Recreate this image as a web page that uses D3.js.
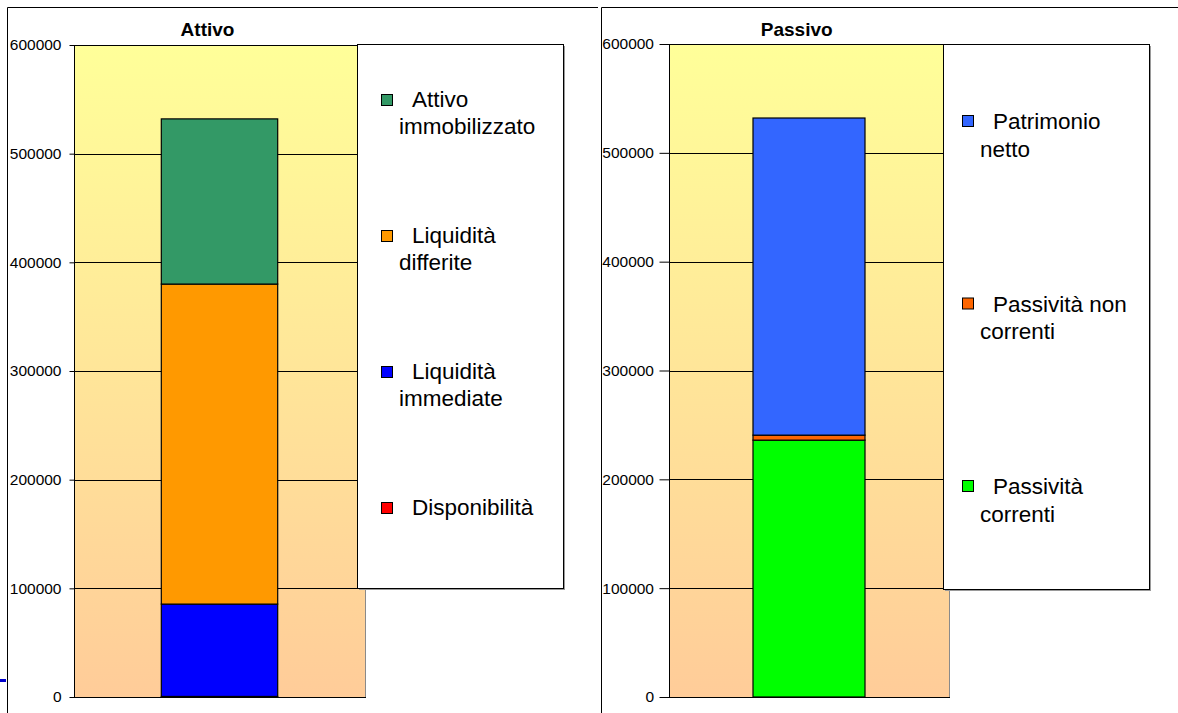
<!DOCTYPE html>
<html>
<head>
<meta charset="utf-8">
<script src="https://cdn.jsdelivr.net/npm/d3@7"></script>
<style>
  body { margin: 0; background: #fff; }
  svg { display: block; }
  text { font-family: "Liberation Sans", Arial, sans-serif; }
</style>
</head>
<body>
<svg id="chart" width="1178" height="713"></svg>
<script>
// ---- data ----
const yTicks = [0, 100000, 200000, 300000, 400000, 500000, 600000];

const attivoTitle = "Attivo";
const attivoSeries = ["Disponibilità", "Liquidità immediate", "Liquidità differite", "Attivo immobilizzato"];
const attivoValues = [500, 85000, 294500, 152000];
const attivoLegendLines = [["Disponibilità"], ["Liquidità", "immediate"], ["Liquidità", "differite"], ["Attivo", "immobilizzato"]];
const attivoColors = ["#FF0000", "#0000FF", "#FF9900", "#339966"];

const passivoTitle = "Passivo";
const passivoSeries = ["Passività correnti", "Passività non correnti", "Patrimonio netto"];
const passivoValues = [236000, 4600, 291400];
const passivoLegendLines = [["Passività", "correnti"], ["Passività non", "correnti"], ["Patrimonio", "netto"]];
const passivoColors = ["#00FF00", "#FF6600", "#3366FF"];

// ---- drawing ----
const svg = d3.select("#chart");
svg.append("rect").attr("width", 1178).attr("height", 713).attr("fill", "#fff");

const defs = svg.append("defs");
const grad = defs.append("linearGradient").attr("id", "plotBg")
  .attr("x1", 0).attr("y1", 0).attr("x2", 0).attr("y2", 1);
grad.append("stop").attr("offset", "0%").attr("stop-color", "#FFFF99");
grad.append("stop").attr("offset", "100%").attr("stop-color", "#FFCC99");

// small stray mark at the page's left edge
svg.append("rect").attr("x", 0).attr("y", 679).attr("width", 6).attr("height", 3).attr("fill", "#0000CC");

// panel frames
svg.append("path").attr("d", "M7.5,713 V7.5 H598").attr("fill", "none").attr("stroke", "#000").attr("stroke-width", 1);
svg.append("path").attr("d", "M601.5,713 V7.5 H1178").attr("fill", "none").attr("stroke", "#000").attr("stroke-width", 1);

function drawPanel(cfg) {
  const g = svg.append("g");
  const y = d3.scaleLinear().domain([0, 600000]).range([cfg.bottom, cfg.top]);
  const x = d3.scaleBand().domain([cfg.title]).range([cfg.left, cfg.right])
    .paddingInner(0).paddingOuter(0.75);

  // plot background
  g.append("rect")
    .attr("x", cfg.left).attr("y", cfg.top)
    .attr("width", cfg.right - cfg.left).attr("height", cfg.bottom - cfg.top)
    .attr("fill", "url(#plotBg)");
  // right edge of plot area
  g.append("line")
    .attr("x1", cfg.right + 0.5).attr("x2", cfg.right + 0.5)
    .attr("y1", cfg.top).attr("y2", cfg.bottom)
    .attr("stroke", "#8a8a8a").attr("stroke-width", 1);

  // gridlines
  g.append("g").selectAll("line").data(yTicks.filter(d => d > 0)).join("line")
    .attr("x1", cfg.left).attr("x2", cfg.right)
    .attr("y1", d => Math.round(y(d)) + 0.5).attr("y2", d => Math.round(y(d)) + 0.5)
    .attr("stroke", "#000").attr("stroke-width", 1);

  // stacked bar
  const row = {};
  cfg.series.forEach((s, i) => row[s] = cfg.values[i]);
  const stacked = d3.stack().keys(cfg.series)([row]);
  g.append("g").selectAll("rect").data(stacked).join("rect")
    .attr("x", x(cfg.title))
    .attr("width", x.bandwidth())
    .attr("y", d => y(d[0][1]))
    .attr("height", d => y(d[0][0]) - y(d[0][1]))
    .attr("fill", (d, i) => cfg.colors[i])
    .attr("stroke", "#000").attr("stroke-width", 1.2);

  // value axis
  const axis = d3.axisLeft(y).tickValues(yTicks).tickFormat(d3.format("d"))
    .tickSize(cfg.tickSize).tickPadding(cfg.tickPadding);
  const ax = g.append("g").attr("transform", `translate(${cfg.left + 0.5},0)`).call(axis);
  ax.select(".domain").attr("stroke", "#000").attr("d", `M0,${cfg.top}V${cfg.bottom}`);
  ax.selectAll(".tick line").attr("stroke", "#000");
  ax.selectAll(".tick text").attr("fill", "#000").attr("font-size", 15.5)
    .attr("font-family", "'Liberation Sans', Arial, sans-serif");
  // category axis line
  g.append("line")
    .attr("x1", cfg.left).attr("x2", cfg.right + 1)
    .attr("y1", cfg.bottom + 0.5).attr("y2", cfg.bottom + 0.5)
    .attr("stroke", "#000").attr("stroke-width", 1.2);

  // title
  g.append("text").attr("x", cfg.titleX).attr("y", 36)
    .attr("text-anchor", "middle").attr("font-weight", "bold").attr("font-size", 19)
    .text(cfg.title);

  // legend
  const L = cfg.legend;
  g.append("rect").attr("x", L.x + 2).attr("y", L.y + 2).attr("width", L.w).attr("height", L.h)
    .attr("fill", "#9a9a9a");
  g.append("rect").attr("x", L.x + 0.5).attr("y", L.y + 0.5).attr("width", L.w).attr("height", L.h)
    .attr("fill", "#fff").attr("stroke", "#000").attr("stroke-width", 1);

  const order = d3.range(cfg.series.length).reverse();
  const items = g.append("g").selectAll("g").data(order).join("g")
    .attr("transform", (d, k) => `translate(0,${L.firstTop + k * L.step})`);
  items.append("rect")
    .attr("x", L.squareX + 0.5).attr("y", 0.5).attr("width", 11).attr("height", 11)
    .attr("fill", d => cfg.colors[d]).attr("stroke", "#000").attr("stroke-width", 1);
  items.each(function(d) {
    const it = d3.select(this);
    cfg.legendLines[d].forEach((line, j) => {
      it.append("text")
        .attr("x", j === 0 ? L.textX : L.wrapX)
        .attr("y", L.baseline + j * 27.5)
        .attr("font-size", 22.5).attr("fill", "#000")
        .text(line);
    });
  });
}

drawPanel({
  title: attivoTitle, series: attivoSeries, values: attivoValues,
  colors: attivoColors, legendLines: attivoLegendLines,
  left: 74, right: 365, top: 45, bottom: 697, titleX: 207.5,
  tickSize: 5, tickPadding: 8,
  legend: { x: 357, y: 44, w: 206, h: 544, firstTop: 94, step: 136,
            squareX: 381, textX: 412, wrapX: 399, baseline: 12.5 }
});

drawPanel({
  title: passivoTitle, series: passivoSeries, values: passivoValues,
  colors: passivoColors, legendLines: passivoLegendLines,
  left: 669, right: 949, top: 44, bottom: 697, titleX: 796.7,
  tickSize: 10, tickPadding: 5.5,
  legend: { x: 943, y: 44, w: 206, h: 545, firstTop: 115, step: 182.5,
            squareX: 962, textX: 993, wrapX: 980, baseline: 14 }
});
</script>
</body>
</html>
